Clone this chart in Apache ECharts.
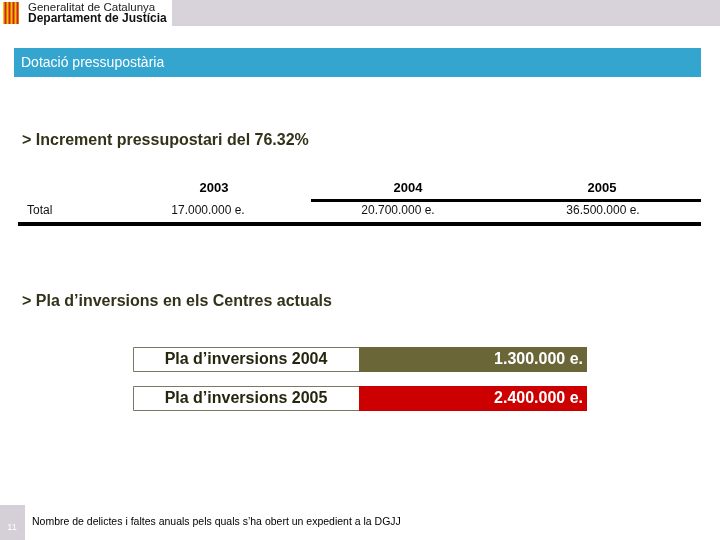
<!DOCTYPE html>
<html>
<head>
<meta charset="utf-8">
<script src="https://cdn.jsdelivr.net/npm/echarts@6/dist/echarts.min.js"></script>
<style>
  html, body { margin: 0; padding: 0; background: #fff; }
  #chart { width: 720px; height: 540px; }
</style>
</head>
<body>
<div id="chart"></div>
<script>
// dades de la diapositiva
const years = ['2003', '2004', '2005']
const budget = [17000000, 20700000, 36500000]
const investLabels = ['Pla d\u2019inversions 2004', 'Pla d\u2019inversions 2005']
const investValues = [1300000, 2400000]
const investColors = ['#6b6637', '#cc0000']

const FONT = '"Liberation Sans", Arial, sans-serif'

// 17000000 -> "17.000.000 e."
function euros(v) {
  return String(v).replace(/\B(?=(\d{3})+(?!\d))/g, '.') + ' e.'
}

const chart = echarts.init(document.getElementById('chart'), null, { renderer: 'canvas' })

// posicions de les columnes de la taula
const headX = [214, 408, 602]
const valX = [208, 398, 603]

const graphics = [
  // capçalera
  { type: 'rect', shape: { x: 172, y: 0, width: 548, height: 26 }, style: { fill: '#d8d2da' } },
  { type: 'rect', shape: { x: 3, y: 2, width: 16, height: 22 }, style: { fill: '#f2c200' } },
  ...[0, 1, 2, 3].map(i => ({
    type: 'rect', shape: { x: 4.5 + i * 4, y: 2, width: 2, height: 22 }, style: { fill: '#d3221c' }
  })),
  { type: 'text', x: 28, y: 7.5, style: { text: 'Generalitat de Catalunya', font: '11.5px ' + FONT, fill: '#222', verticalAlign: 'middle' } },
  { type: 'text', x: 28, y: 19, style: { text: 'Departament de Just\u00edcia', font: 'bold 12px ' + FONT, fill: '#111', verticalAlign: 'middle' } },
  // barra blava
  { type: 'rect', shape: { x: 14, y: 48, width: 687, height: 29 }, style: { fill: '#33a5cf' } },
  { type: 'text', x: 21, y: 63, style: { text: 'Dotaci\u00f3 pressupost\u00e0ria', font: '14px ' + FONT, fill: '#fff', verticalAlign: 'middle' } },
  // titols de secció
  { type: 'text', x: 22, y: 141, style: { text: '> Increment pressupostari del 76.32%', font: 'bold 16px ' + FONT, fill: '#33331a', verticalAlign: 'middle' } },
  { type: 'text', x: 22, y: 302, style: { text: '> Pla d\u2019inversions en els Centres actuals', font: 'bold 16px ' + FONT, fill: '#33331a', verticalAlign: 'middle' } },
  // taula
  { type: 'rect', shape: { x: 311, y: 199, width: 390, height: 3 }, style: { fill: '#000' } },
  { type: 'rect', shape: { x: 18, y: 222, width: 683, height: 4 }, style: { fill: '#000' } },
  { type: 'text', x: 27, y: 211, style: { text: 'Total', font: '12px ' + FONT, fill: '#111', verticalAlign: 'middle' } },
  ...years.map((y, i) => ({
    type: 'text', x: headX[i], y: 188,
    style: { text: y, font: 'bold 13px ' + FONT, fill: '#000', align: 'center', verticalAlign: 'middle' }
  })),
  ...budget.map((v, i) => ({
    type: 'text', x: valX[i], y: 211,
    style: { text: euros(v), font: '12px ' + FONT, fill: '#111', align: 'center', verticalAlign: 'middle' }
  })),
  // peu
  { type: 'rect', shape: { x: 0, y: 505, width: 25, height: 35 }, style: { fill: '#d5d0d8' } },
  { type: 'text', x: 12, y: 528, style: { text: '11', font: '9px ' + FONT, fill: '#fff', align: 'center', verticalAlign: 'middle' } },
  { type: 'text', x: 32, y: 522, style: { text: 'Nombre de delictes i faltes anuals pels quals s\u2019ha obert un expedient a la DGJJ', font: '10.5px ' + FONT, fill: '#000', verticalAlign: 'middle' } }
]

const option = {
  animation: false,
  backgroundColor: '#fff',
  grid: { left: 133, right: 133, top: 340, height: 78 },
  xAxis: { type: 'value', min: 0, max: 1, show: false },
  yAxis: { type: 'category', data: investLabels, inverse: true, show: false },
  graphic: graphics,
  series: [
    {
      type: 'custom',
      data: investValues.map((v, i) => [i, v]),
      renderItem: function (params, api) {
        const idx = api.value(0)
        const c = api.coord([0, idx])
        const right = api.coord([1, idx])[0]
        const mid = c[0] + 226
        const top = c[1] - 12.5
        return {
          type: 'group',
          children: [
            { type: 'rect', shape: { x: c[0] + 0.5, y: top + 0.5, width: 226, height: 24 },
              style: { fill: '#fff', stroke: '#7a7860', lineWidth: 1 } },
            { type: 'rect', shape: { x: mid, y: top, width: right - mid, height: 25 },
              style: { fill: investColors[idx] } },
            { type: 'text', x: c[0] + 113, y: c[1],
              style: { text: investLabels[idx], font: 'bold 16px ' + FONT, fill: '#26260f', align: 'center', verticalAlign: 'middle' } },
            { type: 'text', x: right - 4, y: c[1],
              style: { text: euros(api.value(1)), font: 'bold 16px ' + FONT, fill: '#fff', align: 'right', verticalAlign: 'middle' } }
          ]
        }
      }
    }
  ]
}

chart.setOption(option)
</script>
</body>
</html>
